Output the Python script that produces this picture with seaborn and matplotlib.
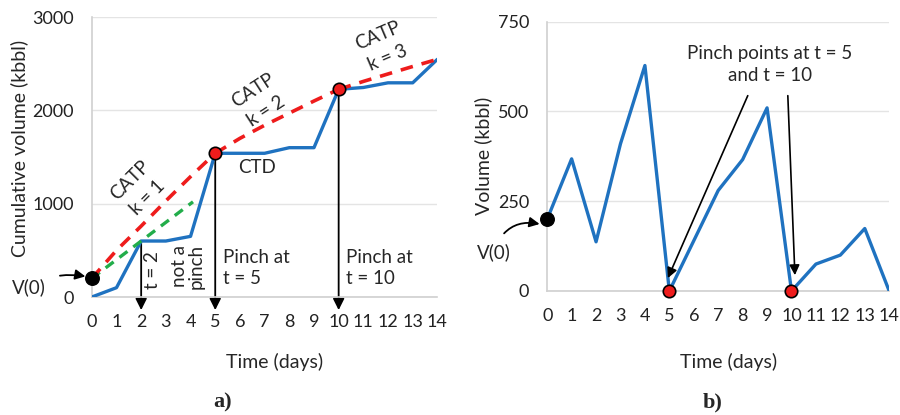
import numpy as np
import pandas as pd
import matplotlib
matplotlib.use("Agg")
import matplotlib.pyplot as plt
import seaborn as sns

# ---- data ----
days = list(range(15))
ctd_cum = [0, 100, 600, 600, 650, 1540, 1540, 1540, 1600, 1600, 2225, 2245, 2295, 2295, 2547]
catp_k1_t = [0, 1, 2, 3, 4, 5]
catp_k1_v = [200, 500, 760, 1030, 1290, 1540]
catp_k2_t = [5, 6, 7, 8, 9, 10]
catp_k2_v = [1540, 1700, 1840, 1970, 2100, 2225]
catp_k3_t = [10, 11, 12, 13, 14]
catp_k3_v = [2225, 2310, 2390, 2470, 2547]
trial_t = [0, 2, 4.1]
trial_v = [200, 600, 1020]
v0 = 200
pinch_days = [5, 10]
pinch_cum = [1540, 2225]

volume = [200, 368, 137, 410, 628, 0, 140, 280, 366, 510, 0, 75, 100, 174, 0]

sns.set_theme(style="white")
plt.rcParams["font.family"] = ["Lato", "DejaVu Sans"]

BLUE = "#1f72c0"
RED = "#ee1c1c"
GREEN = "#22ad4a"
GRID = "#e4e4e4"
FS = 14          # axis titles
FT = 13          # tick labels
FA = 13.5        # annotations

fig = plt.figure(figsize=(9, 4.15), dpi=100)
axL = fig.add_axes([0.102, 0.2843, 0.384, 0.6747])
axR = fig.add_axes([0.608, 0.2988, 0.380, 0.6489])

def style(ax, yticks, ylim):
    ax.set_xlim(0, 14)
    ax.set_ylim(*ylim)
    ax.set_xticks(days)
    ax.set_yticks(yticks)
    ax.tick_params(length=0, labelsize=FT, colors="#222222")
    ax.tick_params(axis="x", pad=12)
    ax.tick_params(axis="y", pad=13)
    ax.yaxis.grid(True, color=GRID, lw=1)
    ax.set_axisbelow(True)
    for s in ["top", "right"]:
        ax.spines[s].set_visible(False)
    for s in ["left", "bottom"]:
        ax.spines[s].set_color("#d0d0d0")
        ax.spines[s].set_linewidth(1.2)

# ---- panel a: cumulative volume ----
style(axL, [0, 1000, 2000, 3000], (0, 3000))
df_cum = pd.DataFrame({"t": days, "v": ctd_cum})
sns.lineplot(data=df_cum, x="t", y="v", ax=axL, color=BLUE, lw=2.4, zorder=3)
axL.plot(trial_t, trial_v, color=GREEN, lw=2.4, dashes=(3, 2.2), zorder=4)
for tt, vv in [(catp_k1_t, catp_k1_v), (catp_k2_t, catp_k2_v), (catp_k3_t, catp_k3_v)]:
    axL.plot(tt, vv, color=RED, lw=2.6, dashes=(3.5, 2.5), zorder=4)

# pinch arrows
arrow_kw = dict(arrowstyle="-|>", color="black", lw=1.3, shrinkA=0, shrinkB=0,
                mutation_scale=17)
axL.annotate("", xy=(2, -140), xytext=(2, 600), arrowprops=arrow_kw,
             annotation_clip=False, zorder=2)
for t, v in zip(pinch_days, pinch_cum):
    axL.annotate("", xy=(t, -140), xytext=(t, v), arrowprops=arrow_kw,
                 annotation_clip=False, zorder=2)

axL.scatter(pinch_days, pinch_cum, s=80, color=RED, edgecolor="black",
            linewidth=1.2, zorder=6, clip_on=False)
axL.scatter([0], [v0], s=95, color="black", zorder=6, clip_on=False)

axL.annotate("V(0)", xy=(-0.15, 215), xytext=(-2.55, 107), fontsize=FA,
             ha="center", va="center", annotation_clip=False,
             arrowprops=dict(arrowstyle="-|>", color="black", lw=1.3,
                             mutation_scale=15, shrinkA=8, shrinkB=2,
                             connectionstyle="arc3,rad=-0.2"))

txt_kw = dict(ha="center", va="center", fontsize=FA, multialignment="center",
              linespacing=1.55, rotation_mode="anchor")
axL.text(1.9, 1160, "CATP\nk = 1", rotation=45, **txt_kw)
axL.text(6.79, 2105, "CATP\nk = 2", rotation=33, **txt_kw)
axL.text(11.79, 2680, "CATP\nk = 3", rotation=23, **txt_kw)
axL.text(6.71, 1383, "CTD", ha="center", va="center", fontsize=FA)
axL.text(2.44, 290, "t = 2", rotation=90, ha="center", va="center", fontsize=FA)
axL.text(3.9, 332, "not a\npinch", rotation=90, ha="center", va="center",
         fontsize=FA, multialignment="center", linespacing=1.0)
axL.text(5.33, 311, "Pinch at\nt = 5", ha="left", va="center", fontsize=FA,
         linespacing=1.25)
axL.text(10.28, 311, "Pinch at\nt = 10", ha="left", va="center", fontsize=FA,
         linespacing=1.25)

axL.set_xlabel("Time (days)", fontsize=FS)
axL.xaxis.set_label_coords(0.53, -0.232)
axL.xaxis.label.set_va("center")
axL.set_ylabel("Cumulative volume (kbbl)", fontsize=FS)
axL.yaxis.set_label_coords(-0.21, 0.53)
axL.yaxis.label.set_va("center")

# ---- panel b: daily volume ----
style(axR, [0, 250, 500, 750], (0, 750))
df_vol = pd.DataFrame({"t": days, "v": volume})
sns.lineplot(data=df_vol, x="t", y="v", ax=axR, color=BLUE, lw=2.4, zorder=3)
axR.scatter(pinch_days, [volume[d] for d in pinch_days], s=80, color=RED,
            edgecolor="black", linewidth=1.2, zorder=6, clip_on=False)
axR.scatter([0], [v0], s=95, color="black", zorder=6, clip_on=False)

axR.text(9.12, 631, "Pinch points at t = 5\nand t = 10", ha="center", va="center",
         fontsize=FA, multialignment="center", linespacing=1.3)
pk = dict(arrowstyle="-|>", color="black", lw=1.2, shrinkA=0, shrinkB=0,
          mutation_scale=15)
axR.annotate("", xy=(4.94, 36), xytext=(8.21, 544), arrowprops=pk)
axR.annotate("", xy=(10.14, 44), xytext=(9.85, 544), arrowprops=pk)

axR.annotate("V(0)", xy=(-0.2, 185), xytext=(-2.2, 108), fontsize=FA,
             ha="center", va="center", annotation_clip=False,
             arrowprops=dict(arrowstyle="-|>", color="black", lw=1.3,
                             mutation_scale=15, shrinkA=6, shrinkB=2,
                             connectionstyle="arc3,rad=-0.45"))

axR.set_xlabel("Time (days)", fontsize=FS)
axR.xaxis.set_label_coords(0.531, -0.264)
axR.xaxis.label.set_va("center")
axR.set_ylabel("Volume (kbbl)", fontsize=FS)
axR.yaxis.set_label_coords(-0.187, 0.5)
axR.yaxis.label.set_va("center")

# panel captions
fig.text(223 / 900, 1 - 402 / 415, "a)", fontsize=16, fontweight="bold",
         family="Liberation Serif", ha="center", va="center")
fig.text(713 / 900, 1 - 402 / 415, "b)", fontsize=16, fontweight="bold",
         family="Liberation Serif", ha="center", va="center")

fig.savefig("out.png", dpi=100)
